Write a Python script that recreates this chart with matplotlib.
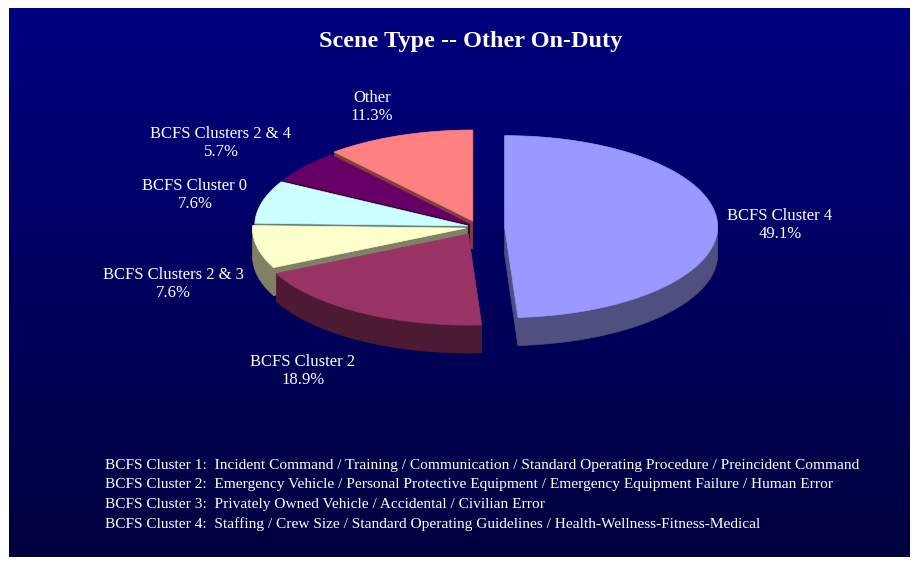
import numpy as np
import matplotlib.pyplot as plt
from matplotlib.patches import Polygon

# data: share of incidents per scene-type cluster (percent)
labels = ["BCFS Cluster 4", "BCFS Cluster 2", "BCFS Clusters 2 & 3",
          "BCFS Cluster 0", "BCFS Clusters 2 & 4", "Other"]
shares = [49.1, 18.9, 7.6, 7.6, 5.7, 11.3]

footnotes = [
    "BCFS Cluster 1:  Incident Command / Training / Communication / Standard Operating Procedure / Preincident Command",
    "BCFS Cluster 2:  Emergency Vehicle / Personal Protective Equipment / Emergency Equipment Failure / Human Error",
    "BCFS Cluster 3:  Privately Owned Vehicle / Accidental / Civilian Error",
    "BCFS Cluster 4:  Staffing / Crew Size / Standard Operating Guidelines / Health-Wellness-Fitness-Medical",
]

# styling / layout
top_colors = ["#9999FF", "#993366", "#FFFFCC", "#CCFFFF", "#660066", "#FF8080"]
side_colors = ["#4F4F80", "#4D1A33", "#808066", "#668080", "#330033", "#804040"]
explode = [0.125, 0.09, 0.06, 0.05, 0.05, 0.07]
label_xy = [(780, 225), (303, 371), (173, 284), (195, 195), (221, 143), (372, 107)]

CX, CY = 478, 227      # pie centre (pixels)
A, B = 213, 91         # ellipse radii
DEPTH = 28             # thickness of the pie
SERIF = "Liberation Serif"

W, H = 915, 563
fig = plt.figure(figsize=(W / 100, H / 100), dpi=100, facecolor="white")
ax = fig.add_axes([0, 0, 1, 1])
ax.set_xlim(0, W)
ax.set_ylim(H, 0)
ax.axis("off")

# gradient background panel
left, right, top, bottom = 9, 910, 8, 557
grad = np.linspace(0, 1, 256)[:, None]
c_top = np.array([0, 0, 128]) / 255
c_bot = np.array([0, 0, 62]) / 255
img = c_top[None, None, :] * (1 - grad[..., None]) + c_bot[None, None, :] * grad[..., None]
ax.imshow(img, extent=[left, right, bottom, top], aspect="auto", zorder=0)


def pt(cx, cy, th, dy=0):
    return (cx + A * np.sin(th), cy - B * np.cos(th) + dy)


total = sum(shares)
bounds = np.concatenate([[0], np.cumsum(shares)]) / total * 2 * np.pi
mids = (bounds[:-1] + bounds[1:]) / 2

# paint back slices first
order = sorted(range(len(shares)), key=lambda i: -np.cos(mids[i]))

z = 2
for i in order:
    t0, t1 = bounds[i], bounds[i + 1]
    e = explode[i]
    cx = CX + e * A * np.sin(mids[i])
    cy = CY - e * B * np.cos(mids[i])
    sc = side_colors[i]
    # radial faces turned toward the viewer
    faces = []
    if np.sin(t0) < -1e-6:
        faces.append(t0)
    if np.sin(t1) > 1e-6:
        faces.append(t1)
    for t in faces:
        p = pt(cx, cy, t)
        poly = [(cx, cy), p, (p[0], p[1] + DEPTH), (cx, cy + DEPTH)]
        ax.add_patch(Polygon(poly, closed=True, fc=sc, ec=sc, lw=0.5, zorder=z))
    # outer wall, front half only
    w0, w1 = max(t0, np.pi / 2), min(t1, 3 * np.pi / 2)
    if w1 > w0:
        th = np.linspace(w0, w1, 80)
        upper = [pt(cx, cy, t) for t in th]
        lower = [pt(cx, cy, t, DEPTH) for t in th[::-1]]
        ax.add_patch(Polygon(upper + lower, closed=True, fc=sc, ec=sc, lw=0.5, zorder=z))
    # top face
    th = np.linspace(t0, t1, 120)
    poly = [(cx, cy)] + [pt(cx, cy, t) for t in th]
    ax.add_patch(Polygon(poly, closed=True, fc=top_colors[i], ec=top_colors[i],
                         lw=0.5, zorder=z + 0.5))
    z += 1

# slice labels
for lab, v, (lx, ly) in zip(labels, shares, label_xy):
    ax.text(lx, ly, f"{lab}\n{v:.1f}%", color="white", fontsize=12,
            family=SERIF, ha="center", va="center", linespacing=1.15, zorder=20)

ax.text(471, 42, "Scene Type -- Other On-Duty", color="white", fontsize=17.5,
        fontweight="bold", family=SERIF, ha="center", va="center", zorder=20)

for k, line in enumerate(footnotes):
    ax.text(105, 465 + k * 19.7, line, color="white", fontsize=11.1, family=SERIF,
            ha="left", va="center", zorder=20)

fig.savefig("out.png", dpi=100, facecolor="white")
